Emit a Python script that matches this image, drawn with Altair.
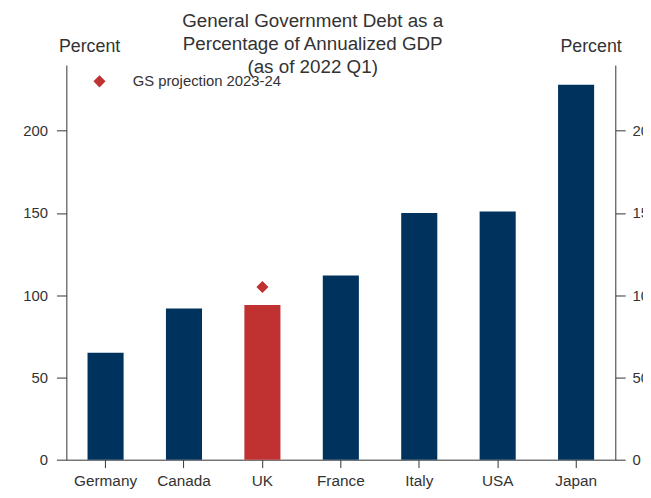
import altair as alt
import pandas as pd

countries = ["Germany", "Canada", "UK", "France", "Italy", "USA", "Japan"]
debt = [65, 92, 94, 112, 150, 151, 228]
proj_country = ["UK"]
proj_value = [105]
proj_label = ["GS projection 2023-24"]
y_ticks = [0, 50, 100, 150, 200]
title_lines = ["General Government Debt as a", "Percentage of Annualized GDP", "(as of 2022 Q1)"]

NAVY = "#00325e"
RED = "#c03232"
FONT = "Liberation Sans"
AX = "#333333"

bars_df = pd.DataFrame({"country": countries, "debt": debt})
proj_df = pd.DataFrame({"country": proj_country, "value": proj_value, "label": proj_label})

x_enc = alt.X("country:N", sort=countries,
              scale=alt.Scale(paddingInner=0.54, paddingOuter=0.27),
              axis=alt.Axis(title=None, labelAngle=0, labelFontSize=15.5, labelColor=AX,
                            labelFont=FONT, tickSize=8, tickColor=AX, domainColor=AX,
                            labelPadding=6, grid=False))
y_scale = alt.Scale(domain=[0, 240], nice=False)

bars = alt.Chart(bars_df).mark_bar().encode(
    x=x_enc,
    y=alt.Y("debt:Q", scale=y_scale,
            axis=alt.Axis(values=y_ticks, title="Percent", titleAngle=0, titleX=23, titleY=-19,
                          titleAlign="center", titleBaseline="middle", titleFontSize=18,
                          titleFontWeight="normal", titleFont=FONT, titleColor=AX,
                          labelFontSize=15, labelFont=FONT, labelColor=AX, tickSize=10,
                          labelPadding=9, tickColor=AX, domainColor=AX, grid=False)),
    color=alt.condition(alt.datum.country == "UK", alt.value(RED), alt.value(NAVY)),
)

right = alt.Chart(bars_df).mark_bar(opacity=0).encode(
    x=alt.X("country:N", sort=countries),
    y=alt.Y("debt:Q", scale=y_scale,
            axis=alt.Axis(orient="right", values=y_ticks, title="Percent", titleAngle=0,
                          titleX=-25, titleY=-19, titleAlign="center", titleBaseline="middle",
                          titleFontSize=18, titleFontWeight="normal", titleFont=FONT,
                          titleColor=AX, labelFontSize=15, labelFont=FONT, labelColor=AX,
                          tickSize=10, labelPadding=7, tickColor=AX, domainColor=AX, grid=False)),
)

points = alt.Chart(proj_df).mark_point(shape="diamond", filled=True, size=150, opacity=1).encode(
    x=alt.X("country:N", sort=countries),
    y=alt.Y("value:Q", scale=y_scale, axis=None),
    color=alt.Color("label:N", scale=alt.Scale(domain=proj_label, range=[RED]),
                    legend=alt.Legend(orient="none", legendX=26, legendY=9, title=None,
                                      labelFontSize=15, labelFont=FONT, labelColor=AX,
                                      symbolSize=150, symbolType="diamond", labelOffset=26,
                                      padding=0, symbolOpacity=1)),
)

title = alt.Chart(pd.DataFrame({"t": [0]})).mark_text(
    text=title_lines, font=FONT, fontSize=19, color=AX, align="center", baseline="top",
    lineHeight=23,
).encode(x=alt.value(249), y=alt.value(-53))

chart = alt.layer(bars, right, points, title).resolve_axis(y="independent").properties(
    width=555, height=399,
    autosize=alt.AutoSizeParams(type="none"),
    padding={"left": 59, "top": 55, "right": 28, "bottom": 30},
    background="white",
).configure_view(stroke=None)

chart.save("out.html", embed_options={"renderer": "svg", "actions": False})
